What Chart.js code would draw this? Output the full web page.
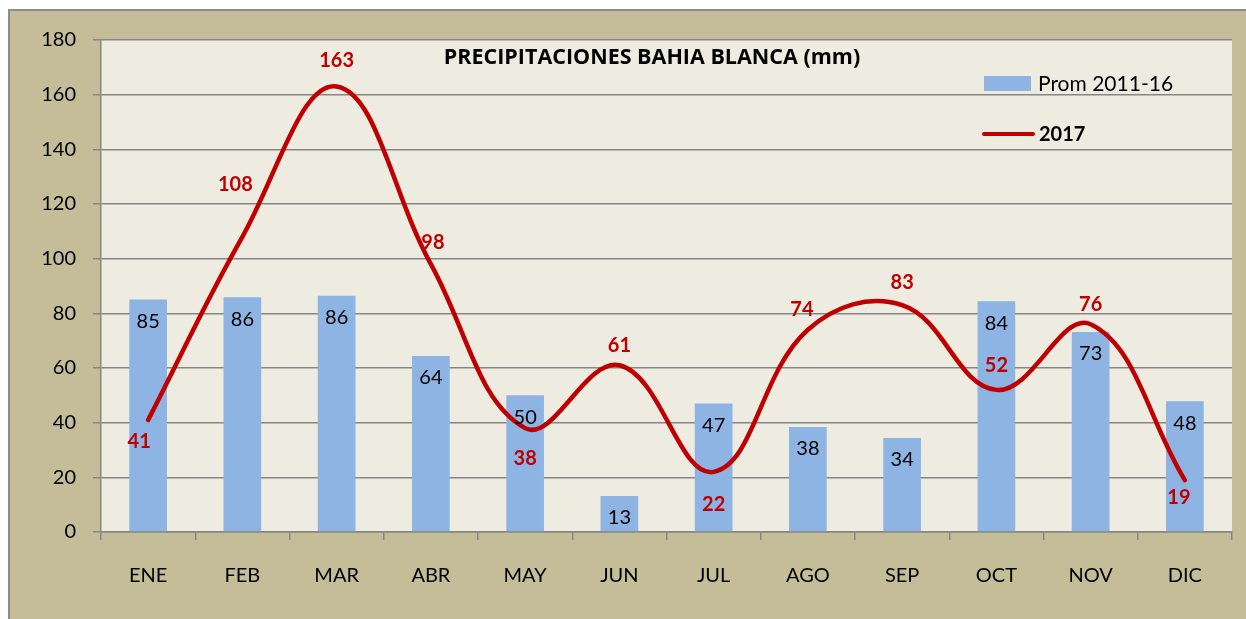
<!DOCTYPE html>
<html>
<head>
<meta charset="utf-8">
<script src="https://cdn.jsdelivr.net/npm/chart.js@4/dist/chart.umd.min.js"></script>
<style>
  html, body { margin: 0; padding: 0; background: #ffffff; }
  #wrap { position: relative; width: 1246px; height: 619px; }
</style>
</head>
<body>
<div id="wrap"><canvas id="chart" width="1246" height="619"></canvas></div>
<script>
"use strict";

var months = ['ENE', 'FEB', 'MAR', 'ABR', 'MAY', 'JUN', 'JUL', 'AGO', 'SEP', 'OCT', 'NOV', 'DIC'];
var prom2011_16 = [85.1, 85.9, 86.4, 64.4, 50.0, 13.2, 47.0, 38.4, 34.4, 84.4, 73.2, 47.8];
var y2017 = [41, 108, 163, 98, 38, 61, 22, 74, 83, 52, 76, 19];
var yTicks = [0, 20, 40, 60, 80, 100, 120, 140, 160, 180];

var FONT = 'Lato, "Noto Sans", sans-serif';
var RED = '#C00000';
var BLUE = '#8EB4E3';

// where the red labels sit relative to their point: [dx, dy]
var lineLabelOffset = [[-9, 22], [-7, -52], [0, -26], [2, -22], [0, 30], [0, -20], [0, 33], [-6, -20], [0, -23], [0, -24], [0, -20], [-6, 17]];

// frame, plot background
var framePlugin = {
    id: 'frame',
    beforeDraw: function(chart) {
        var ctx = chart.ctx, a = chart.chartArea;
        ctx.save();
        ctx.fillStyle = '#C4BD97';
        ctx.fillRect(9, 10, chart.width, chart.height);
        ctx.strokeStyle = '#8C8C8C';
        ctx.lineWidth = 2;
        ctx.beginPath();
        ctx.moveTo(9, chart.height);
        ctx.lineTo(9, 10);
        ctx.lineTo(chart.width, 10);
        ctx.stroke();
        ctx.fillStyle = '#EEEBE0';
        ctx.fillRect(a.left, a.top, a.right - a.left, a.bottom - a.top);
        ctx.restore();
    }
};

// value labels, title and legend
var labelsPlugin = {
    id: 'labels',
    afterDatasetsDraw: function(chart) {
        var ctx = chart.ctx, a = chart.chartArea;
        ctx.save();
        ctx.textAlign = 'center';
        ctx.textBaseline = 'middle';

        ctx.font = '20px ' + FONT;
        ctx.fillStyle = '#000000';
        chart.getDatasetMeta(0).data.forEach(function(bar, i) {
            ctx.fillText(Math.round(prom2011_16[i]), bar.x, bar.y + 22);
        });

        ctx.font = 'bold 20px ' + FONT;
        ctx.fillStyle = RED;
        chart.getDatasetMeta(1).data.forEach(function(pt, i) {
            var o = lineLabelOffset[i];
            ctx.fillText(y2017[i], pt.x + o[0], pt.y + o[1]);
        });

        // title
        ctx.font = 'bold 21.5px "Open Sans", ' + FONT;
        ctx.fillStyle = '#000000';
        ctx.fillText('PRECIPITACIONES BAHIA BLANCA (mm)', a.left + 551, a.top + 18);

        // legend
        var lx = a.right - 248;
        ctx.textAlign = 'left';
        ctx.fillStyle = BLUE;
        ctx.fillRect(lx, a.top + 36, 47, 15);
        ctx.fillStyle = '#000000';
        ctx.font = '21px ' + FONT;
        ctx.fillText(chart.data.datasets[0].label, lx + 54, a.top + 44);

        ctx.strokeStyle = RED;
        ctx.lineWidth = 4;
        ctx.lineCap = 'round';
        ctx.beginPath();
        ctx.moveTo(lx, a.top + 94);
        ctx.lineTo(lx + 49, a.top + 94);
        ctx.stroke();
        ctx.font = 'bold 20px ' + FONT;
        ctx.fillText(chart.data.datasets[1].label, lx + 55, a.top + 95);
        ctx.restore();
    }
};

new Chart(document.getElementById('chart'), {
    data: {
        labels: months,
        datasets: [{
            type: 'bar',
            label: 'Prom 2011-16',
            data: prom2011_16,
            backgroundColor: BLUE,
            barPercentage: 0.4,
            categoryPercentage: 1.0,
            order: 1
        }, {
            type: 'line',
            label: '2017',
            data: y2017,
            borderColor: RED,
            borderWidth: 4.5,
            borderCapStyle: 'round',
            tension: 0.4,
            pointRadius: 0,
            fill: false,
            order: 0
        }]
    },
    options: {
        responsive: false,
        animation: false,
        layout: { padding: { top: 40, right: 14, left: 0, bottom: 0 } },
        plugins: {
            legend: { display: false },
            title: { display: false },
            tooltip: { enabled: false }
        },
        scales: {
            x: {
                offset: true,
                grid: {
                    offset: true,
                    drawOnChartArea: false,
                    drawTicks: true,
                    tickLength: 8,
                    color: '#868686',
                    lineWidth: 1.5
                },
                border: { color: '#868686', width: 1.5 },
                ticks: {
                    color: '#000000',
                    font: { family: FONT, size: 20 },
                    padding: 24
                },
                afterFit: function(scale) { scale.height = 87; }
            },
            y: {
                min: 0,
                max: 180,
                afterBuildTicks: function(scale) {
                    scale.ticks = yTicks.map(function(v) { return { value: v }; });
                },
                grid: {
                    color: '#868686',
                    lineWidth: 1.5,
                    tickLength: 8
                },
                border: { color: '#868686', width: 1.5 },
                ticks: {
                    color: '#000000',
                    font: { family: FONT, size: 20 },
                    padding: 17
                },
                afterFit: function(scale) { scale.width = 101; }
            }
        }
    },
    plugins: [framePlugin, labelsPlugin]
});
</script>
</body>
</html>
